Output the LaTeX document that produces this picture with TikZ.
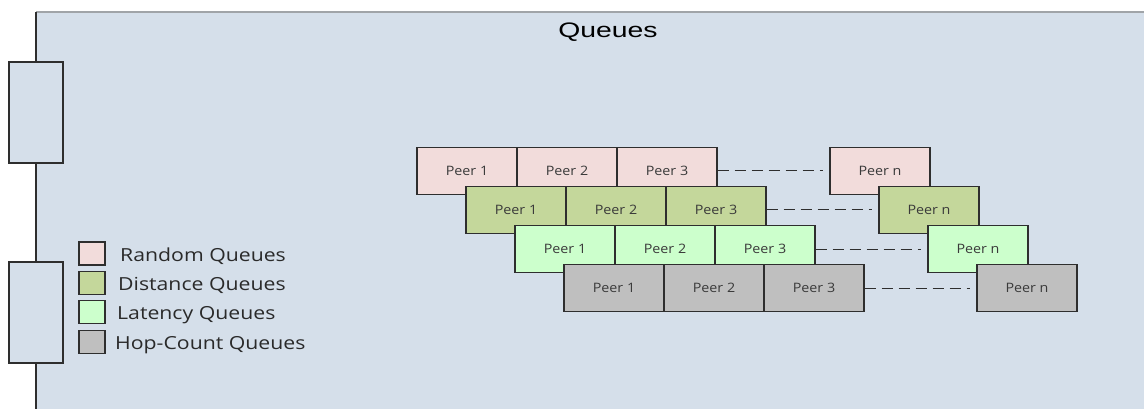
\documentclass[tikz,border=0pt]{standalone}
\usepackage{fontspec}
\setmainfont{Open Sans}[FakeStretch=1.1]
\newfontfamily\legfont{Open Sans}[FakeStretch=1.18]
\newfontfamily\titlefont{Liberation Sans}[FakeStretch=1.35]
\definecolor{bgblue}{HTML}{D5DFEA}
\definecolor{topgray}{HTML}{A0A4A8}
\definecolor{edge}{HTML}{2E2E2E}
\definecolor{txt}{HTML}{3A3A3A}
\definecolor{ltxt}{HTML}{2A2A2A}
\definecolor{crnd}{HTML}{F2DCDB}
\definecolor{cdst}{HTML}{C4D79B}
\definecolor{clat}{HTML}{CCFFCC}
\definecolor{chop}{HTML}{BFBFBF}
\tikzset{
  cell/.style={draw=edge, line width=1.3pt, minimum width=100pt, minimum height=47pt,
    inner sep=0pt, text=txt, font=\fontsize{13}{15}\selectfont},
  tabbox/.style={draw=edge, line width=1.3pt, fill=bgblue, minimum width=54pt,
    minimum height=101pt, inner sep=0pt},
  legsq/.style={draw=edge, line width=1.3pt, minimum width=26pt, minimum height=23pt, inner sep=0pt},
  legtxt/.style={anchor=base west, inner sep=0pt, text=ltxt, font=\legfont\fontsize{18}{20}\selectfont},
  gapline/.style={draw=edge, line width=1pt, dash pattern=on 11pt off 6pt, shorten >=6pt}
}
\begin{document}
\begin{tikzpicture}[x=1pt,y=-1pt]
\useasboundingbox (0,0) rectangle (1144,409);
% main panel
\fill[bgblue] (36,12) rectangle (1144,409);
\draw[topgray, line width=1.6pt] (36,12) -- (1144,12);
\draw[edge, line width=1.3pt] (36,12) -- (36,409);
% side tabs
\node[tabbox] (tab1) at (36,112.5) {};
\node[tabbox] (tab2) at (36,312.5) {};
% title
\node[anchor=base, inner sep=0pt] (title) at (608,38) {\titlefont\fontsize{21}{24}\selectfont Queues};
% queues
\foreach \i/\c/\n in {0/crnd/rnd,1/cdst/dst,2/clat/lat,3/chop/hop}{
  \pgfmathsetmacro{\xo}{417+49*\i}
  \pgfmathsetmacro{\yc}{171+39*\i}
  \node[cell, fill=\c] (\n1) at (\xo+50,\yc) {Peer 1};
  \node[cell, fill=\c] (\n2) at (\xo+150,\yc) {Peer 2};
  \node[cell, fill=\c] (\n3) at (\xo+250,\yc) {Peer 3};
  \node[cell, fill=\c] (\n n) at (\xo+463,\yc) {Peer n};
  \draw[gapline] (\n3.east) -- (\n n.west);
}
% legend
\node[legsq, fill=crnd] (lg1) at (92,253.5) {};
\node[legsq, fill=cdst] (lg2) at (92,283) {};
\node[legsq, fill=clat] (lg3) at (92,312) {};
\node[legsq, fill=chop] (lg4) at (92,342) {};
\node[legtxt] (lt1) at (120,261) {Random Queues};
\node[legtxt] (lt2) at (118,290.5) {Distance Queues};
\node[legtxt] (lt3) at (117,319.5) {Latency Queues};
\node[legtxt] (lt4) at (115,349.5) {Hop-Count Queues};
\end{tikzpicture}
\end{document}
